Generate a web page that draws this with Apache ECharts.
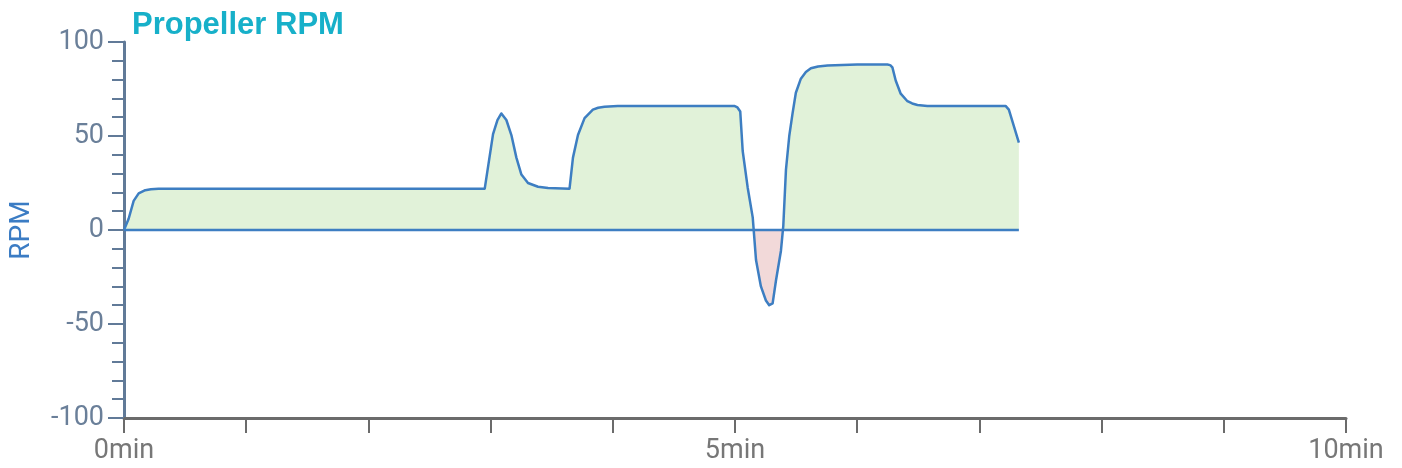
<!DOCTYPE html>
<html>
<head>
<meta charset="utf-8">
<script src="https://cdn.jsdelivr.net/npm/echarts@6/dist/echarts.min.js"></script>
<style>html,body{margin:0;padding:0;background:#fff}#c{width:1402px;height:468px}</style>
</head>
<body>
<div id="c"></div>
<script>
// time in minutes
const timeMin = [0, 0.038, 0.079, 0.120, 0.174, 0.22, 0.283, 1.0, 2.0, 2.952,
  3.020, 3.056, 3.088, 3.129, 3.170, 3.211, 3.252, 3.306, 3.388, 3.470, 3.646,
  3.674, 3.715, 3.769, 3.837, 3.88, 3.932, 4.041, 4.5, 4.994, 5.02,
  5.043, 5.063, 5.104, 5.145, 5.172, 5.212, 5.253, 5.280, 5.308, 5.335, 5.376, 5.395,
  5.417, 5.444, 5.471, 5.498, 5.539, 5.58, 5.621, 5.68, 5.757, 6.0, 6.247, 6.27,
  6.288, 6.315, 6.356, 6.411, 6.45, 6.493, 6.574, 7.0, 7.214, 7.241, 7.269, 7.323];
const rpm = [0, 6, 15.5, 19.5, 21.2, 21.7, 22, 22, 22, 22,
  51, 58.5, 62, 58.5, 50.5, 38.5, 29.5, 25, 23, 22.3, 22,
  38.5, 50.5, 59.5, 64, 65, 65.5, 66, 66, 66, 65.2,
  63, 42, 22.5, 6.7, -16, -30, -37.5, -40, -39, -27, -11, 2,
  32, 50, 62, 73, 80.5, 84, 86, 87, 87.5, 88, 88, 87.7,
  86.5, 79.5, 72.5, 68.5, 67.3, 66.5, 66, 66, 66, 64, 58, 46.5];
const yTicks = [-100, -50, 0, 50, 100];
const xLabelMinutes = [0, 5, 10];

const series = timeMin.map((t, i) => [t, rpm[i]]);
const zeroLine = [[timeMin[0], 0], [timeMin[timeMin.length - 1], 0]];

// area gradient: hard stop where value crosses zero (relative to area bounding box)
const vMax = Math.max(0, ...rpm), vMin = Math.min(0, ...rpm);
const zeroFrac = vMax / (vMax - vMin);
const posColor = '#e1f2d9', negColor = '#f2d9d9';

const chart = echarts.init(document.getElementById('c'));
chart.setOption({
  animation: false,
  title: {
    text: 'Propeller RPM', left: 127, top: 5,
    textStyle: { color: '#17b0c9', fontSize: 31, fontWeight: 'bold', fontFamily: 'Liberation Sans' }
  },
  grid: { left: 122, right: 56, top: 42, bottom: 50 },
  xAxis: {
    type: 'value', min: 0, max: 10, interval: 1,
    axisLine: { onZero: false, lineStyle: { color: '#6b6b6b', width: 3 } },
    axisTick: { show: true, length: 15, lineStyle: { color: '#6b6b6b', width: 2 } },
    splitLine: { show: false },
    axisLabel: {
      color: '#777', fontSize: 27, fontFamily: 'Roboto', margin: 20,
      formatter: v => xLabelMinutes.indexOf(v) >= 0 ? v + 'min' : ''
    }
  },
  yAxis: {
    type: 'value', min: yTicks[0], max: yTicks[yTicks.length - 1], interval: 50,
    name: 'RPM', nameLocation: 'middle', nameGap: 88, nameRotate: 90,
    nameTextStyle: { color: '#3b7cc4', fontSize: 28, fontFamily: 'Roboto' },
    axisLine: { show: true, lineStyle: { color: '#617a98', width: 3 } },
    axisTick: { show: true, length: 16, lineStyle: { color: '#617a98', width: 2 } },
    minorTick: { show: true, splitNumber: 5, length: 12, lineStyle: { color: '#617a98', width: 2 } },
    splitLine: { show: false },
    axisLabel: { color: '#6a7f99', fontSize: 27, fontFamily: 'Roboto', margin: 20 }
  },
  series: [
    { type: 'line', data: series, showSymbol: false, silent: true,
      lineStyle: { width: 0, opacity: 0 },
      areaStyle: {
        opacity: 1,
        color: new echarts.graphic.LinearGradient(0, 0, 0, 1, [
          { offset: 0, color: posColor }, { offset: zeroFrac, color: posColor },
          { offset: zeroFrac, color: negColor }, { offset: 1, color: negColor }
        ])
      }, z: 1 },
    { type: 'line', data: series, showSymbol: false,
      lineStyle: { color: '#3d7ec2', width: 2.5, join: 'round' }, z: 3 },
    { type: 'line', data: zeroLine, showSymbol: false,
      lineStyle: { color: '#3d7ec2', width: 2.5 }, z: 2 }
  ]
});
</script>
</body>
</html>
